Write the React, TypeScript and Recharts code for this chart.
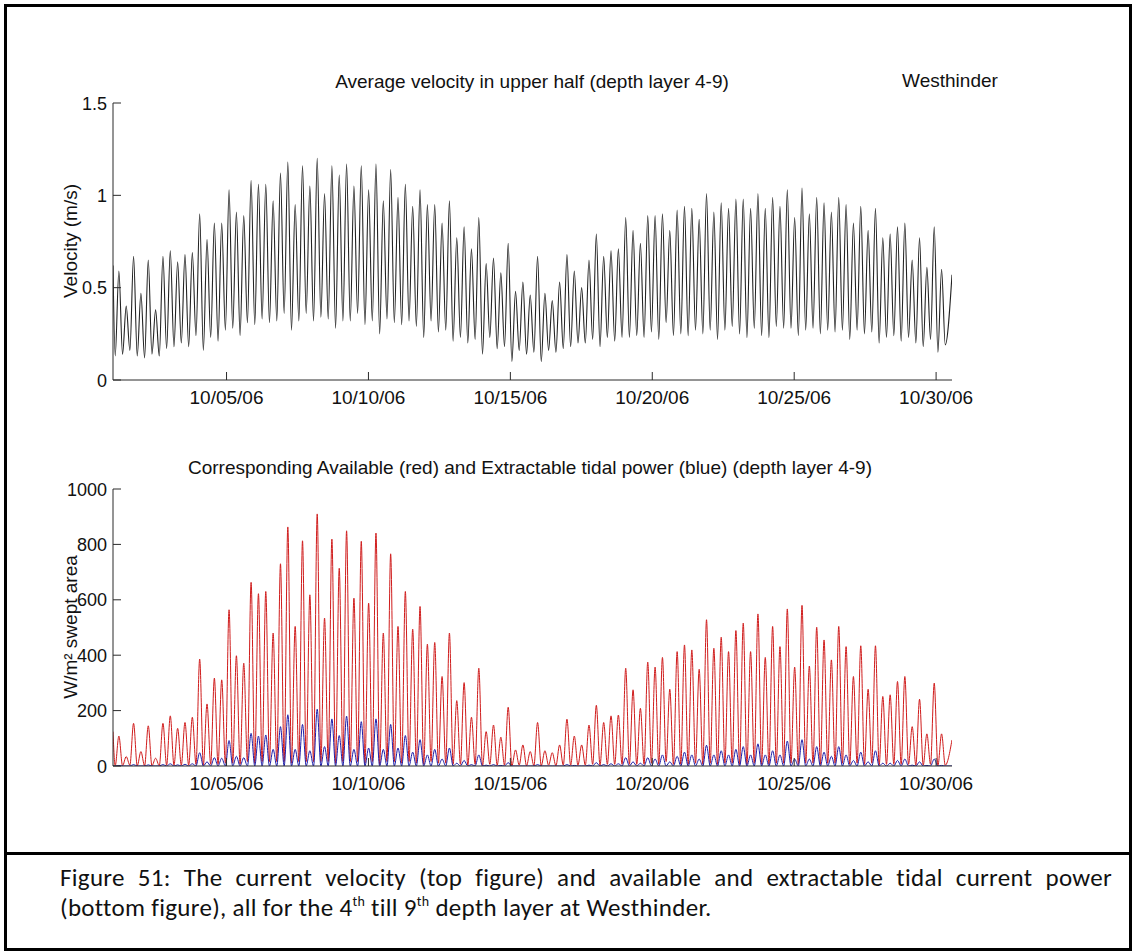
import React from 'react';
import { LineChart, Line, XAxis, YAxis } from 'recharts';

// ---------- time axis (days of October 2006) ----------
const DAY_START = 1.0;
const DAY_END = 30.56;
const FIRST_PEAK_DAY = 1.207;
const HALF_TIDE_DAYS = 0.2588; // spacing between successive current maxima (ebb / flood)

const xTickDays = [5, 10, 15, 20, 25, 30];
const xTickLabels = ['10/05/06', '10/10/06', '10/15/06', '10/20/06', '10/25/06', '10/30/06'];
const velTicks = [0, 0.5, 1, 1.5];
const velTickLabels = ['0', '0.5', '1', '1.5'];
const powTicks = [0, 200, 400, 600, 800, 1000];
const powTickLabels = ['0', '200', '400', '600', '800', '1000'];

// ---------- top panel: average velocity (m/s) ----------
const VEL_START = 0.62;
const VEL_END = 0.57;
const velPeaks = [
  0.59, 0.40, 0.67, 0.47, 0.65, 0.38, 0.67, 0.70, 0.64, 0.68,
  0.69, 0.90, 0.76, 0.85, 0.85, 1.03, 0.91, 0.89, 1.08, 1.06,
  1.06, 0.97, 1.12, 1.18, 0.95, 1.16, 1.05, 1.20, 1.01, 1.16,
  1.11, 1.17, 1.05, 1.16, 1.03, 1.17, 0.97, 1.14, 0.99,
  1.06, 0.94, 1.03, 0.95, 0.95, 0.85, 0.97, 0.77, 0.83, 0.71,
  0.88, 0.63, 0.66, 0.58, 0.74, 0.48, 0.53, 0.46, 0.67, 0.47,
  0.43, 0.53, 0.68, 0.59, 0.50, 0.65, 0.79, 0.67, 0.70, 0.71,
  0.88, 0.81, 0.74, 0.89, 0.89, 0.90, 0.81, 0.92,
  0.94, 0.93, 0.87, 1.01, 0.91, 0.96, 0.93, 0.98, 0.98, 0.93,
  1.01, 0.93, 0.99, 0.94, 1.03, 0.88, 1.04, 0.90, 0.99, 0.96,
  0.91, 0.99, 0.95, 0.85, 0.94, 0.81, 0.93, 0.77, 0.79, 0.83,
  0.85, 0.65, 0.77, 0.61, 0.83, 0.60,
];
const velTroughs = [
  0.13,
  0.14, 0.16, 0.13, 0.12, 0.14, 0.13, 0.17, 0.18, 0.20, 0.18,
  0.24, 0.16, 0.23, 0.21, 0.27, 0.28, 0.24, 0.31, 0.30, 0.33,
  0.31, 0.32, 0.36, 0.27, 0.32, 0.36, 0.32, 0.34, 0.33, 0.28,
  0.32, 0.32, 0.36, 0.30, 0.32, 0.25, 0.33, 0.31,
  0.30,
  0.32, 0.29, 0.23, 0.32, 0.26, 0.27, 0.21, 0.23, 0.20, 0.22,
  0.14, 0.23, 0.17, 0.18, 0.10, 0.16, 0.14, 0.15, 0.10, 0.16,
  0.15, 0.17, 0.18, 0.20, 0.20, 0.22, 0.18, 0.23, 0.21, 0.23,
  0.23, 0.24, 0.23, 0.26, 0.22, 0.31, 0.24,
  0.25,
  0.24, 0.27, 0.25, 0.27, 0.22, 0.27, 0.29, 0.25, 0.23, 0.28,
  0.24, 0.23, 0.29, 0.28, 0.28, 0.24, 0.27, 0.28, 0.25, 0.27,
  0.26, 0.27, 0.22, 0.27, 0.25, 0.26, 0.20, 0.23, 0.24, 0.21,
  0.23, 0.20, 0.18, 0.22, 0.15,
  0.19,
];

// ---------- bottom panel: available (red) and extractable (blue) power, W/m2 ----------
const RED_START = 124;
const RED_END = 94;
const redPeaks = [
  108, 34, 154, 52, 145, 28, 154, 181, 136, 157,
  176, 386, 224, 317, 311, 564, 398, 371, 663, 622,
  630, 480, 730, 863, 504, 813, 618, 910, 534, 819,
  714, 849, 606, 811, 588, 841, 480, 766, 504,
  630, 494, 576, 440, 446, 323, 480, 236, 301, 176,
  353, 124, 148, 104, 212, 58, 76, 52, 157, 55,
  48, 76, 169, 108, 76, 148, 219, 157, 181, 184,
  353, 275, 208, 375, 357, 392, 277, 413,
  437, 419, 349, 528, 425, 465, 413, 489, 516, 413,
  549, 392, 504, 431, 567, 357, 580, 361, 501, 455,
  383, 504, 431, 323, 434, 277, 434, 251, 257, 305,
  323, 142, 241, 116, 299, 116,
];
const redTroughs = [
  1,
  1, 3, 1, 1, 1, 1, 3, 3, 3, 3,
  6, 3, 6, 6, 10, 10, 6, 16, 10, 16,
  16, 16, 16, 10, 16, 16, 16, 16, 16, 10,
  16, 16, 16, 10, 16, 6, 16, 16,
  10,
  16, 10, 6, 16, 10, 10, 6, 6, 3, 6,
  1, 6, 3, 3, 1, 3, 1, 1, 1, 3,
  1, 3, 3, 3, 3, 6, 3, 6, 6, 6,
  6, 6, 6, 10, 6, 16, 6,
  6,
  6, 10, 6, 10, 6, 10, 10, 6, 6, 10,
  6, 6, 10, 10, 10, 6, 10, 10, 6, 10,
  10, 10, 6, 10, 6, 10, 3, 6, 6, 6,
  6, 3, 3, 6, 1,
  3,
];
const bluePeaks = [
  2, 0, 5, 0, 4, 0, 5, 8, 4, 6,
  8, 48, 15, 30, 28, 92, 35, 30, 118, 108,
  112, 60, 142, 185, 60, 150, 55, 205, 70, 170,
  110, 180, 60, 160, 65, 170, 60, 150, 65,
  110, 50, 95, 40, 60, 25, 65, 10, 20, 5,
  40, 3, 5, 2, 12, 0, 0, 0, 5, 0,
  0, 0, 5, 2, 0, 3, 12, 5, 8, 8,
  30, 15, 10, 30, 25, 40, 15, 35,
  50, 40, 25, 75, 40, 55, 40, 60, 70, 40,
  80, 40, 55, 40, 90, 25, 95, 25, 70, 50,
  35, 70, 40, 20, 50, 15, 55, 10, 10, 20,
  25, 3, 15, 2, 25, 2,
];
const BLUE_TROUGH = 0;

type Row = { t: number; v: number; red: number; blue: number };
const rows: Row[] = [];
rows.push({ t: DAY_START, v: VEL_START, red: RED_START, blue: BLUE_TROUGH });
for (let j = 0; j < velTroughs.length; j++) {
  rows.push({
    t: FIRST_PEAK_DAY + (j - 0.5) * HALF_TIDE_DAYS,
    v: velTroughs[j],
    red: redTroughs[j],
    blue: BLUE_TROUGH,
  });
  if (j < velPeaks.length) {
    rows.push({
      t: FIRST_PEAK_DAY + j * HALF_TIDE_DAYS,
      v: velPeaks[j],
      red: redPeaks[j],
      blue: bluePeaks[j],
    });
  }
}
rows.push({ t: DAY_END, v: VEL_END, red: RED_END, blue: BLUE_TROUGH });

// ---------- styling ----------
const FONT = '"Liberation Sans", Arial, Helvetica, sans-serif';
const AXIS_COLOR = '#2a2a2a';
const TEXT_COLOR = '#111';
const TICK_LEN = 8;
const FS = 19;
const YFS = 18;

const labelFor = (ticks: number[], labels: string[], v: number) => {
  const i = ticks.findIndex((t) => Math.abs(t - v) < 1e-9);
  return i >= 0 ? labels[i] : String(v);
};

const makeBottomTick = (ticks: number[], labels: string[]) => (props: any) => {
  const { x, y, payload } = props;
  return (
    <g>
      <line x1={x} y1={y} x2={x} y2={y - TICK_LEN} stroke={AXIS_COLOR} strokeWidth={1} />
      <text x={x} y={y + 24} textAnchor="middle" fontSize={FS} fontFamily={FONT} fill={TEXT_COLOR}>
        {labelFor(ticks, labels, payload.value)}
      </text>
    </g>
  );
};
const TopTick = (props: any) => {
  const { x, y } = props;
  return <line x1={x} y1={y} x2={x} y2={y + TICK_LEN} stroke={AXIS_COLOR} strokeWidth={1} />;
};
const makeLeftTick = (ticks: number[], labels: string[]) => (props: any) => {
  const { x, y, payload } = props;
  return (
    <g>
      <line x1={x} y1={y} x2={x + TICK_LEN} y2={y} stroke={AXIS_COLOR} strokeWidth={1} />
      <text x={x - 6} y={y + 6.5} textAnchor="end" fontSize={YFS} fontFamily={FONT} fill={TEXT_COLOR}>
        {labelFor(ticks, labels, payload.value)}
      </text>
    </g>
  );
};
const RightTick = (props: any) => {
  const { x, y } = props;
  return <line x1={x} y1={y} x2={x - TICK_LEN} y2={y} stroke={AXIS_COLOR} strokeWidth={1} />;
};

const W = 1136;
const PLOT_LEFT = 113;
const PLOT_RIGHT = 952;

type PanelProps = {
  top: number;
  height: number;
  plotTop: number;
  plotBottom: number;
  yDomain: [number, number];
  yTicks: number[];
  yLabels: string[];
  children: React.ReactNode;
};

function Panel({ top, height, plotTop, plotBottom, yDomain, yTicks, yLabels, children }: PanelProps) {
  const xAxisH = height - (plotBottom - top);
  return (
    <div style={{ position: 'absolute', left: 0, top, width: W, height }}>
      <LineChart
        width={W}
        height={height}
        data={rows}
        margin={{ top: plotTop - top, right: W - PLOT_RIGHT, bottom: 0, left: 0 }}
      >
        <XAxis
          xAxisId="main"
          dataKey="t"
          type="number"
          domain={[DAY_START, DAY_END]}
          allowDataOverflow
          ticks={xTickDays}
          interval={0}
          height={xAxisH}
          tickSize={0}
          tickMargin={0}
          tickLine={false}
          axisLine={{ stroke: AXIS_COLOR, strokeWidth: 1 }}
          tick={makeBottomTick(xTickDays, xTickLabels)}
        />
        <XAxis
          xAxisId="top"
          orientation="top"
          dataKey="t"
          type="number"
          domain={[DAY_START, DAY_END]}
          allowDataOverflow
          ticks={xTickDays}
          interval={0}
          height={0}
          tickSize={0}
          tickMargin={0}
          tickLine={false}
          axisLine={{ stroke: AXIS_COLOR, strokeWidth: 1 }}
          tick={TopTick}
        />
        <YAxis
          yAxisId="left"
          type="number"
          domain={yDomain}
          allowDataOverflow
          ticks={yTicks}
          interval={0}
          width={PLOT_LEFT}
          tickSize={0}
          tickMargin={0}
          tickLine={false}
          axisLine={{ stroke: AXIS_COLOR, strokeWidth: 1 }}
          tick={makeLeftTick(yTicks, yLabels)}
        />
        <YAxis
          yAxisId="right"
          orientation="right"
          type="number"
          domain={yDomain}
          allowDataOverflow
          ticks={yTicks}
          interval={0}
          width={0}
          tickSize={0}
          tickMargin={0}
          tickLine={false}
          axisLine={{ stroke: AXIS_COLOR, strokeWidth: 1 }}
          tick={RightTick}
        />
        {children}
      </LineChart>
    </div>
  );
}

const CAPTION_FONT = 'Carlito, Calibri, Lato, sans-serif';
const captionLine: React.CSSProperties = {
  position: 'absolute',
  left: 60,
  fontFamily: CAPTION_FONT,
  fontSize: 25,
  lineHeight: '30px',
  height: 30,
  letterSpacing: 0.3,
  color: '#111',
  whiteSpace: 'nowrap',
};
const supStyle: React.CSSProperties = { fontSize: 14, lineHeight: 0, verticalAlign: 10 };

export default function App() {
  return (
    <div
      style={{
        position: 'absolute',
        left: 0,
        top: 0,
        width: W,
        height: 952,
        background: '#fff',
        overflow: 'hidden',
        fontFamily: FONT,
      }}
    >
      {/* outer frame and divider */}
      <div
        style={{
          position: 'absolute',
          left: 4,
          top: 4,
          width: 1128 - 6,
          height: 947 - 6,
          border: '3px solid #000',
        }}
      />
      <div style={{ position: 'absolute', left: 4, top: 852, width: 1128, height: 3, background: '#000' }} />

      <Panel top={0} height={420} plotTop={103} plotBottom={380} yDomain={[0, 1.5]} yTicks={velTicks} yLabels={velTickLabels}>
        <Line
          xAxisId="main"
          yAxisId="left"
          type="monotone"
          dataKey="v"
          stroke="#222"
          strokeWidth={1.1}
          dot={false}
          isAnimationActive={false}
        />
      </Panel>

      <Panel top={420} height={386} plotTop={489} plotBottom={766} yDomain={[0, 1000]} yTicks={powTicks} yLabels={powTickLabels}>
        <Line
          xAxisId="main"
          yAxisId="left"
          type="monotone"
          dataKey="red"
          stroke="#d01c1c"
          strokeWidth={1}
          dot={false}
          isAnimationActive={false}
        />
        <Line
          xAxisId="main"
          yAxisId="left"
          type="monotone"
          dataKey="blue"
          stroke="#1c1ca8"
          strokeWidth={1}
          dot={false}
          isAnimationActive={false}
        />
      </Panel>

      {/* titles and axis labels */}
      <svg
        width={W}
        height={952}
        style={{ position: 'absolute', left: 0, top: 0, pointerEvents: 'none' }}
      >
        <g fontFamily={FONT} fontSize={FS} fill={TEXT_COLOR}>
          <text x={532} y={88} textAnchor="middle">
            Average velocity in upper half (depth layer 4-9)
          </text>
          <text x={950} y={87} textAnchor="middle">
            Westhinder
          </text>
          <text x={530} y={474} textAnchor="middle">
            Corresponding Available (red) and Extractable tidal power (blue) (depth layer 4-9)
          </text>
          <text x={77} y={241} textAnchor="middle" transform="rotate(-90 77 241)">
            Velocity (m/s)
          </text>
          <text x={77} y={627} textAnchor="middle" transform="rotate(-90 77 627)">
            W/m² swept area
          </text>
        </g>
      </svg>

      {/* caption */}
      <div
        style={{
          ...captionLine,
          top: 863,
          width: 1052,
          textAlign: 'justify',
          textAlignLast: 'justify',
        }}
      >
        Figure 51: The current velocity (top figure) and available and extractable tidal current power
      </div>
      <div style={{ ...captionLine, top: 893 }}>
        (bottom figure), all for the 4<sup style={supStyle}>th</sup> till 9<sup style={supStyle}>th</sup> depth layer at Westhinder.
      </div>
    </div>
  );
}
